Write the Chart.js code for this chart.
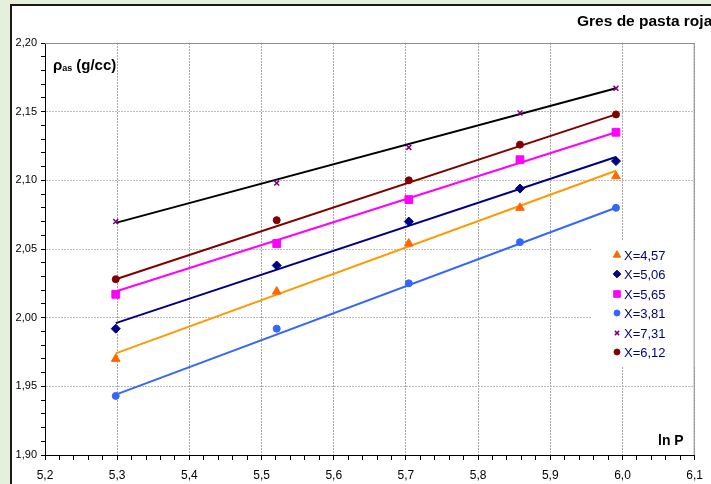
<!DOCTYPE html>
<html>
<head>
<meta charset="utf-8">
<script src="https://cdn.jsdelivr.net/npm/chart.js@4.4.1/dist/chart.umd.min.js"></script>
<style>
	html, body { margin: 0; padding: 0; background: #e4efdc; }
	#chart { display: block; }
</style>
</head>
<body>
<canvas id="chart" width="711" height="484"></canvas>
<script>
// ln P (x) en las 5 presiones
const lnP = [5.298, 5.521, 5.704, 5.858, 5.991];

const seriesLabels = ['X=4,57', 'X=5,06', 'X=5,65', 'X=3,81', 'X=7,31', 'X=6,12'];

// densidad aparente
const rho457 = [1.970, 2.019, 2.054, 2.080, 2.103];
const rho506 = [1.992, 2.038, 2.070, 2.094, 2.114];
const rho565 = [2.017, 2.054, 2.086, 2.115, 2.135];
const rho381 = [1.943, 1.992, 2.025, 2.055, 2.080];
const rho731 = [2.070, 2.098, 2.124, 2.149, 2.167];
const rho612 = [2.028, 2.071, 2.100, 2.126, 2.148];

// lineas de tendencia: valor en el primer y ultimo ln P
const fit457 = [1.974, 2.107];
const fit506 = [1.996, 2.117];
const fit565 = [2.019, 2.135];
const fit381 = [1.944, 2.080];
const fit731 = [2.069, 2.167];
const fit612 = [2.028, 2.148];

const xMin = 5.2, xMax = 6.1, xMinor = 0.02;
const yMin = 1.9, yMax = 2.2, yMinor = 0.01;

const FONT = 'Arial, "Liberation Sans", sans-serif';

const series = [
	{ label: seriesLabels[0], values: rho457, fit: fit457, marker: '#ff6600', line: '#ff9900', style: 'triangle', radius: 5 },
	{ label: seriesLabels[1], values: rho506, fit: fit506, marker: '#000080', line: '#000080', style: 'rectRot', radius: 4.5 },
	{ label: seriesLabels[2], values: rho565, fit: fit565, marker: '#ff00ff', line: '#ff00ff', style: 'rect', radius: 5.5 },
	{ label: seriesLabels[3], values: rho381, fit: fit381, marker: '#3366ff', line: '#3366ff', style: 'circle', radius: 3.5 },
	{ label: seriesLabels[4], values: rho731, fit: fit731, marker: '#800080', line: '#000000', style: 'crossRot', radius: 3.5 },
	{ label: seriesLabels[5], values: rho612, fit: fit612, marker: '#800000', line: '#800000', style: 'circle', radius: 3.5 }
];

const datasets = [];
series.forEach(s => {
	datasets.push({
		type: 'line',
		label: s.label + ' tendencia',
		data: [{ x: lnP[0], y: s.fit[0] }, { x: lnP[lnP.length - 1], y: s.fit[1] }],
		borderColor: s.line,
		borderWidth: 2,
		pointRadius: 0,
		fill: false,
		order: 2
	});
	datasets.push({
		type: 'scatter',
		label: s.label,
		data: s.values.map((v, i) => ({ x: lnP[i], y: v })),
		backgroundColor: s.marker,
		borderColor: s.marker,
		borderWidth: s.style === 'crossRot' ? 1.5 : 1,
		pointStyle: s.style,
		pointRadius: s.radius,
		order: 1
	});
});

function isMajor(v, step) {
	return Math.abs(v / step - Math.round(v / step)) < 1e-6;
}

const framePlugin = {
	id: 'frame',
	beforeDraw(chart) {
		const ctx = chart.ctx;
		ctx.save();
		ctx.fillStyle = '#e4efdc';
		ctx.fillRect(0, 0, chart.width, chart.height);
		ctx.fillStyle = '#ffffff';
		ctx.fillRect(10, 4, chart.width, chart.height);
		ctx.strokeStyle = '#1a1a1a';
		ctx.lineWidth = 2;
		ctx.strokeRect(11, 5, chart.width + 10, chart.height + 10);
		ctx.restore();
	},
	beforeDatasetsDraw(chart) {
		const ctx = chart.ctx;
		const a = chart.chartArea;
		ctx.save();
		// fondo blanco de la leyenda
		ctx.fillStyle = '#ffffff';
		ctx.fillRect(592, 240, 103, 127);
		// borde gris arriba y a la derecha
		ctx.strokeStyle = '#8c8c8c';
		ctx.lineWidth = 1;
		ctx.beginPath();
		ctx.moveTo(a.left, a.top + 0.5);
		ctx.lineTo(a.right - 0.5, a.top + 0.5);
		ctx.lineTo(a.right - 0.5, a.bottom);
		ctx.stroke();
		ctx.restore();
	},
	afterDraw(chart) {
		const ctx = chart.ctx;
		ctx.save();
		ctx.fillStyle = '#000000';
		ctx.textBaseline = 'alphabetic';
		ctx.textAlign = 'left';

		ctx.font = 'bold 15.5px ' + FONT;
		ctx.fillText('Gres de pasta roja', 577, 26);
		ctx.font = 'bold 14px ' + FONT;
		ctx.fillText('ln P', 658, 445);

		// titulo eje y: ρas (g/cc)
		let x = 53;
		ctx.font = 'bold 15px ' + FONT;
		ctx.fillText('ρ', x, 70);
		x += ctx.measureText('ρ').width;
		ctx.font = 'bold 9px ' + FONT;
		ctx.fillText('as', x, 71);
		x += ctx.measureText('as').width + 2;
		ctx.font = 'bold 15px ' + FONT;
		ctx.fillText('(g/cc)', x + 2, 70);

		// leyenda
		const rowY = [255, 274, 294, 313, 333, 352];
		ctx.font = '13px ' + FONT;
		ctx.textBaseline = 'middle';
		series.forEach((s, i) => {
			ctx.fillStyle = s.marker;
			ctx.strokeStyle = s.marker;
			ctx.lineWidth = s.style === 'crossRot' ? 1.5 : 1;
			Chart.helpers.drawPoint(ctx, {
				pointStyle: s.style,
				rotation: 0,
				radius: s.radius * 0.85,
				borderWidth: ctx.lineWidth
			}, 617, rowY[i]);
			ctx.fillStyle = '#000080';
			ctx.fillText(s.label, 624, rowY[i] + 1);
		});
		ctx.restore();
	}
};

const ctx = document.getElementById('chart').getContext('2d');

new Chart(ctx, {
	type: 'scatter',
	data: { datasets: datasets },
	plugins: [framePlugin],
	options: {
		responsive: false,
		animation: false,
		devicePixelRatio: 1,
		layout: {
			padding: { left: 0, top: 43, right: 14, bottom: 0 }
		},
		scales: {
			x: {
				type: 'linear',
				position: 'bottom',
				min: xMin,
				max: xMax,
				afterBuildTicks: scale => {
					const ticks = [];
					const n = Math.round((xMax - xMin) / xMinor);
					for (let i = 0; i <= n; i++) {
						ticks.push({ value: xMin + i * xMinor });
					}
					scale.ticks = ticks;
				},
				afterFit: scale => { scale.height = 29; },
				ticks: {
					autoSkip: false,
					maxRotation: 0,
					padding: 8,
					color: '#000000',
					font: { family: FONT, size: 12 },
					callback: v => isMajor(v, 0.1) ? v.toFixed(1).replace('.', ',') : ''
				},
				grid: {
					color: c => (c.tick && isMajor(c.tick.value, 0.1)) ? '#a8a8a8' : 'rgba(0,0,0,0)',
					tickColor: '#000000',
					tickLength: 5,
					lineWidth: 1
				},
				border: { display: true, color: '#000000', width: 1, dash: [2, 1] }
			},
			y: {
				type: 'linear',
				position: 'left',
				min: yMin,
				max: yMax,
				afterBuildTicks: scale => {
					const ticks = [];
					const n = Math.round((yMax - yMin) / yMinor);
					for (let i = 0; i <= n; i++) {
						ticks.push({ value: yMin + i * yMinor });
					}
					scale.ticks = ticks;
				},
				afterFit: scale => { scale.width = 45; },
				ticks: {
					autoSkip: false,
					padding: 4,
					color: '#000000',
					font: { family: FONT, size: 11 },
					callback: v => isMajor(v, 0.05) ? v.toFixed(2).replace('.', ',') : ''
				},
				grid: {
					color: c => (c.tick && isMajor(c.tick.value, 0.05)) ? '#bdbdbd' : 'rgba(0,0,0,0)',
					tickColor: '#000000',
					tickLength: 4,
					lineWidth: 1
				},
				border: { display: true, color: '#000000', width: 1, dash: [2, 1] }
			}
		},
		plugins: {
			legend: { display: false },
			tooltip: { enabled: false },
			title: { display: false }
		}
	}
});
</script>
</body>
</html>
